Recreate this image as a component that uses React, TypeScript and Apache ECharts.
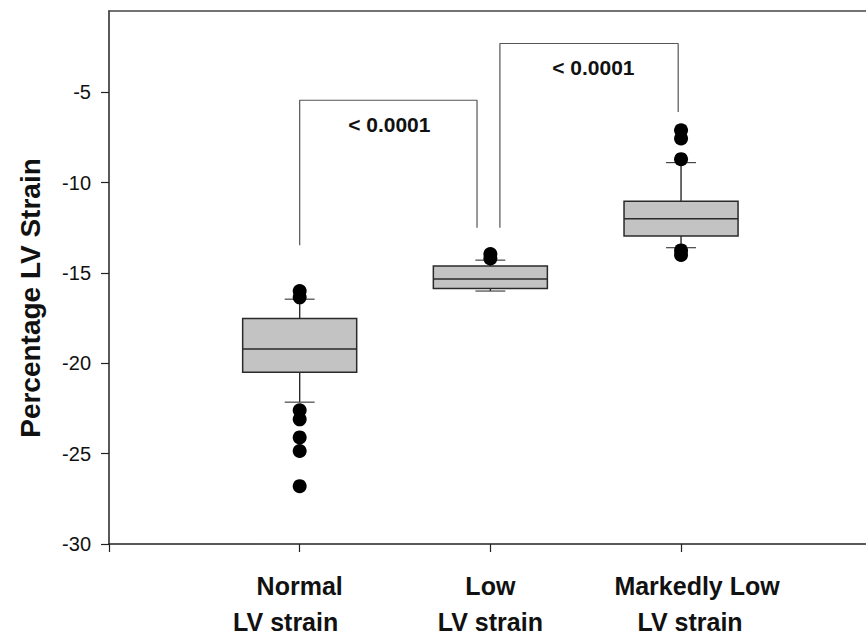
import React, { useEffect, useRef } from 'react';
import * as echarts from 'echarts';

// ---- data ----
const categoryLines = [
  ['Normal', 'LV strain'],
  ['Low', 'LV strain'],
  ['Markedly Low', 'LV strain'],
];
const categoryPositions = [1, 2, 3];
// [lower whisker, Q1, median, Q3, upper whisker]
const normalBox = [-22.15, -20.49, -19.21, -17.52, -16.45];
const lowBox = [-16.0, -15.86, -15.33, -14.62, -14.29];
const markedBox = [-13.6, -12.96, -12.0, -11.03, -8.89];
const normalOutliers = [-16.0, -16.35, -22.6, -23.1, -24.1, -24.85, -26.8];
const lowOutliers = [-13.95, -14.2];
const markedOutliers = [-7.1, -7.55, -8.7, -13.75, -14.0];
const yTicks = [-30, -25, -20, -15, -10, -5];
const yTitle = 'Percentage LV Strain';
// brackets: [x, y] path points
const bracket1 = [[1, -13.46], [1, -5.44], [1.93, -5.44], [1.93, -12.5]];
const bracket2 = [[2.05, -12.5], [2.05, -2.3], [2.985, -2.3], [2.985, -6.09]];
const pLabels = ['< 0.0001', '< 0.0001'];
const pLabelPos = [[1.47, -6.77], [2.54, -3.6]];

const FONT = '"Liberation Sans", Arial, Helvetica, sans-serif';
const BOX_W = 0.598;
const CAP_W = 0.157;
// horizontal nudges (px) of each label line, [line1, line2]
const labelShift = [[0, -14], [0, 0], [16, 9]];

export default function App() {
  const ref = useRef<HTMLDivElement>(null);
  useEffect(() => {
    if (!ref.current) return;
    const chart = echarts.init(ref.current, null, { renderer: 'svg' });
    const boxes = [normalBox, lowBox, markedBox].map((b, i) => [categoryPositions[i], ...b]);
    const outliers: number[][] = [];
    [normalOutliers, lowOutliers, markedOutliers].forEach((arr, i) =>
      arr.forEach((v) => outliers.push([categoryPositions[i], v]))
    );
    const stroke = '#2a2a2a';
    const rich: any = {};
    labelShift.forEach((s, i) => {
      s.forEach((d, j) => {
        rich[`l${i}${j}`] = {
          fontFamily: FONT,
          fontSize: 25,
          fontWeight: 'bold',
          lineHeight: j === 0 ? 52 : 20,
          color: '#111',
          padding: d >= 0 ? [0, 0, 0, 2 * d] : [0, -2 * d, 0, 0],
        };
      });
    });
    chart.setOption({
      animation: false,
      grid: { left: 109, right: 0, top: 11, bottom: 93, outerBoundsMode: 'none', containLabel: false },
      xAxis: [
        {
          type: 'value',
          min: 0,
          max: 3.97,
          interval: 1,
          position: 'bottom',
          axisLine: { show: true, onZero: false, lineStyle: { color: '#222', width: 1.5 } },
          axisTick: { show: true, length: 8, customValues: [0, 1, 2, 3], lineStyle: { color: '#222', width: 1.2 } },
          axisLabel: {
            customValues: categoryPositions,
            formatter: (v: number) => {
              const i = Math.round(v) - 1;
              const lines = categoryLines[i];
              if (!lines) return '';
              return `{l${i}0|${lines[0]}}\n{l${i}1|${lines[1]}}`;
            },
            rich,
            fontFamily: FONT,
            fontSize: 25,
            fontWeight: 'bold',
            margin: 16,
            color: '#111',
          },
          splitLine: { show: false },
        },
        {
          type: 'value',
          min: 0,
          max: 3.97,
          position: 'top',
          axisLine: { show: true, onZero: false, lineStyle: { color: '#444', width: 1.5 } },
          axisTick: { show: false },
          axisLabel: { show: false },
          splitLine: { show: false },
        },
      ],
      yAxis: {
        type: 'value',
        min: -30,
        max: -0.5,
        interval: 5,
        axisLine: { show: true, onZero: false, lineStyle: { color: '#222', width: 1.5 } },
        axisTick: { show: true, length: 8, customValues: yTicks, lineStyle: { color: '#222', width: 1.2 } },
        axisLabel: {
          customValues: yTicks,
          fontFamily: FONT,
          fontSize: 20,
          margin: 18,
          color: '#111',
        },
        splitLine: { show: false },
      },
      graphic: [
        {
          type: 'text',
          x: 30,
          y: 298,
          rotation: Math.PI / 2,
          style: {
            text: yTitle,
            font: `bold 28px ${FONT}`,
            fill: '#111',
            textAlign: 'center',
            textVerticalAlign: 'middle',
          },
        },
      ],
      series: [
        {
          type: 'line',
          data: bracket1,
          symbol: 'none',
          lineStyle: { color: '#555', width: 1.2 },
          silent: true,
        },
        {
          type: 'line',
          data: bracket2,
          symbol: 'none',
          lineStyle: { color: '#555', width: 1.2 },
          silent: true,
        },
        {
          type: 'custom',
          data: boxes,
          encode: { x: 0, y: [1, 2, 3, 4, 5] },
          renderItem: (params: any, api: any) => {
            const x = api.value(0);
            const lo = api.coord([x, api.value(1)]);
            const q1 = api.coord([x, api.value(2)]);
            const med = api.coord([x, api.value(3)]);
            const q3 = api.coord([x, api.value(4)]);
            const hi = api.coord([x, api.value(5)]);
            const bw = api.size([BOX_W, 0])[0];
            const cw = api.size([CAP_W, 0])[0];
            const cx = med[0];
            const ls = { stroke, lineWidth: 1.4 };
            return {
              type: 'group',
              children: [
                { type: 'line', shape: { x1: cx, y1: q3[1], x2: cx, y2: hi[1] }, style: ls },
                { type: 'line', shape: { x1: cx, y1: q1[1], x2: cx, y2: lo[1] }, style: ls },
                { type: 'line', shape: { x1: cx - cw / 2, y1: hi[1], x2: cx + cw / 2, y2: hi[1] }, style: { stroke: '#444', lineWidth: 1.2 } },
                { type: 'line', shape: { x1: cx - cw / 2, y1: lo[1], x2: cx + cw / 2, y2: lo[1] }, style: { stroke: '#444', lineWidth: 1.2 } },
                {
                  type: 'rect',
                  shape: { x: cx - bw / 2, y: q3[1], width: bw, height: q1[1] - q3[1] },
                  style: { fill: '#c3c3c3', stroke, lineWidth: 1.5 },
                },
                { type: 'line', shape: { x1: cx - bw / 2, y1: med[1], x2: cx + bw / 2, y2: med[1] }, style: { stroke, lineWidth: 1.5 } },
              ],
            };
          },
          silent: true,
        },
        {
          type: 'scatter',
          data: outliers,
          symbol: 'circle',
          symbolSize: 14,
          itemStyle: { color: '#000', opacity: 1 },
          silent: true,
        },
        {
          type: 'custom',
          data: pLabelPos.map((p, i) => [p[0], p[1], i]),
          encode: { x: 0, y: 1 },
          renderItem: (params: any, api: any) => {
            const pt = api.coord([api.value(0), api.value(1)]);
            return {
              type: 'text',
              x: pt[0],
              y: pt[1],
              style: {
                text: pLabels[api.value(2)],
                font: `bold 21px ${FONT}`,
                fill: '#111',
                textAlign: 'center',
                textVerticalAlign: 'middle',
              },
            };
          },
          silent: true,
        },
      ],
    });
    return () => chart.dispose();
  }, []);
  return (
    <div
      ref={ref}
      style={{ position: 'absolute', left: 0, top: 0, width: 866, height: 637, background: '#fff' }}
    />
  );
}
